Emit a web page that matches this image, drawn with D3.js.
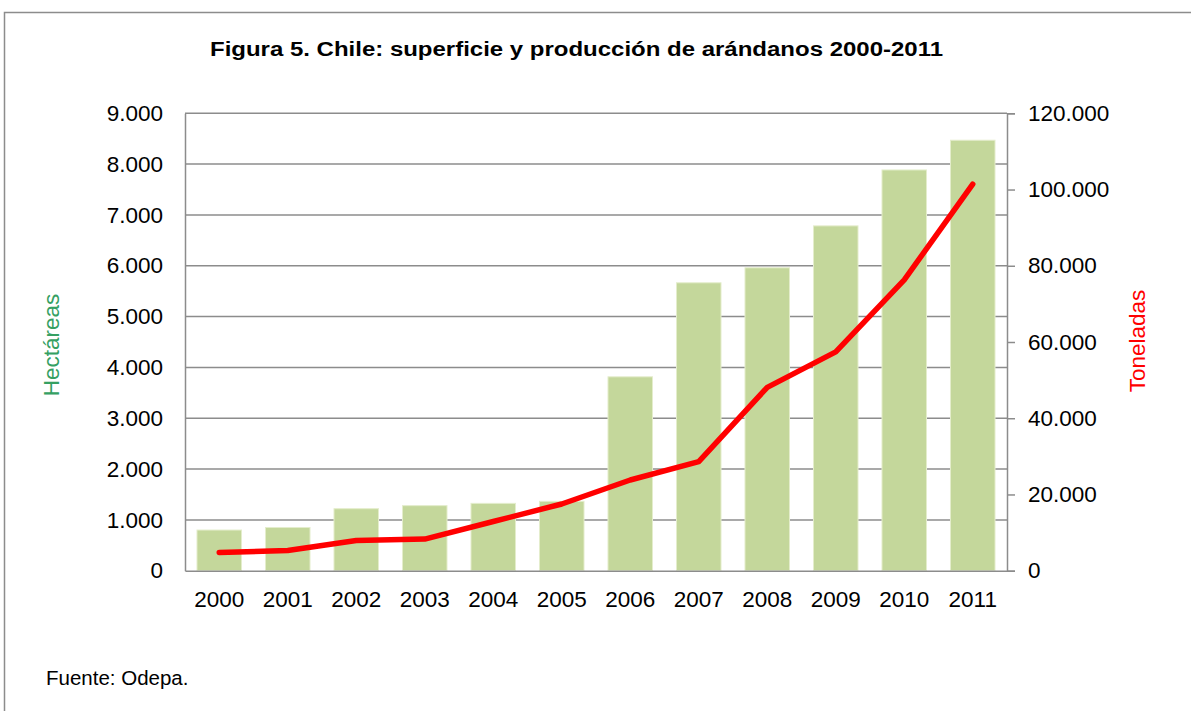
<!DOCTYPE html>
<html>
<head>
<meta charset="utf-8">
<script src="https://cdn.jsdelivr.net/npm/d3@7"></script>
<style>
  body { margin: 0; background: #fff; }
  text { font-family: "Liberation Sans", Arial, sans-serif; }
</style>
</head>
<body>
<div class="canvas"></div>
<script>
const years = ["2000","2001","2002","2003","2004","2005","2006","2007","2008","2009","2010","2011"]
const hectareas = [800, 850, 1220, 1280, 1325, 1365, 3815, 5665, 5960, 6785, 7885, 8470]
const toneladas = [4800, 5300, 7900, 8300, 12900, 17500, 23800, 28600, 48100, 57400, 76300, 101400]
const leftTicks = [0, 1000, 2000, 3000, 4000, 5000, 6000, 7000, 8000, 9000]
const rightTicks = [0, 20000, 40000, 60000, 80000, 100000, 120000]

const width = 1191
const height = 711
const plot = { left: 185, right: 1007, top: 113.3, bottom: 570.7 }

const svg = d3.select(".canvas")
    .append("svg")
    .attr("width", width)
    .attr("height", height)

const fmt = v => d3.format(",")(v).replace(/,/g, ".")

// outer frame
svg.append("rect")
    .attr("x", 4.5).attr("y", 12.5)
    .attr("width", width + 10).attr("height", height + 10)
    .attr("fill", "none")
    .attr("stroke", "#8c8c8c")
    .attr("stroke-width", 1.5)

// title is drawn wider in the reference, stretch it to match
svg.append("text")
    .attr("x", 210).attr("y", 56)
    .attr("font-size", 20).attr("font-weight", "bold")
    .attr("textLength", 733)
    .attr("lengthAdjust", "spacingAndGlyphs")
    .text("Figura 5. Chile: superficie y producción de arándanos 2000-2011")

const x = d3.scaleBand()
    .domain(years)
    .range([plot.left, plot.right])
    .paddingInner(0.35)
    .paddingOuter(0.175)

const yL = d3.scaleLinear().domain([0, 9000]).range([plot.bottom, plot.top])
const yR = d3.scaleLinear().domain([0, 120000]).range([plot.bottom, plot.top])

// gridlines
svg.append("g")
    .selectAll("line")
    .data(leftTicks.slice(1))
    .enter().append("line")
    .attr("x1", plot.left).attr("x2", plot.right)
    .attr("y1", d => yL(d)).attr("y2", d => yL(d))
    .attr("stroke", "#8c8c8c").attr("stroke-width", 1.5)

// bars
svg.append("g")
    .selectAll("rect")
    .data(years)
    .enter().append("rect")
    .attr("x", d => x(d))
    .attr("width", x.bandwidth())
    .attr("y", (d, i) => yL(hectareas[i]))
    .attr("height", (d, i) => plot.bottom - yL(hectareas[i]))
    .attr("fill", "#c4d79b")
    .attr("stroke", "#e4edcc").attr("stroke-width", 1)

// left axis
const gL = svg.append("g")
    .attr("transform", `translate(${plot.left},0)`)
    .call(d3.axisLeft(yL).tickValues(leftTicks).tickSize(0).tickPadding(22).tickFormat(fmt))
gL.select(".domain").attr("stroke", "#8c8c8c").attr("stroke-width", 1.5)
gL.selectAll("text").attr("font-size", 22.5).attr("fill", "#000")
    .style("font-family", "'Liberation Sans', Arial, sans-serif")

// right axis
const gR = svg.append("g")
    .attr("transform", `translate(${plot.right},0)`)
    .call(d3.axisRight(yR).tickValues(rightTicks).tickSize(8).tickPadding(13).tickFormat(fmt))
gR.select(".domain").attr("stroke", "#8c8c8c").attr("stroke-width", 1.5)
gR.selectAll(".tick line").attr("stroke", "#8c8c8c").attr("stroke-width", 1.5)
gR.selectAll("text").attr("font-size", 22.5).attr("fill", "#000")
    .style("font-family", "'Liberation Sans', Arial, sans-serif")

// bottom axis
const gB = svg.append("g")
    .attr("transform", `translate(0,${plot.bottom})`)
    .call(d3.axisBottom(x).tickSize(0).tickPadding(20))
gB.select(".domain").attr("stroke", "#8c8c8c").attr("stroke-width", 1.5)
gB.selectAll("text").attr("font-size", 22.5).attr("fill", "#000")
    .style("font-family", "'Liberation Sans', Arial, sans-serif")

// production line
const line = d3.line()
    .x((d, i) => x(years[i]) + x.bandwidth() / 2)
    .y(d => yR(d))

svg.append("path")
    .datum(toneladas)
    .attr("d", line)
    .attr("fill", "none")
    .attr("stroke", "#ff0000")
    .attr("stroke-width", 5.5)
    .attr("stroke-linecap", "round")
    .attr("stroke-linejoin", "round")

// axis titles
svg.append("text")
    .attr("transform", "translate(59,345) rotate(-90)")
    .attr("text-anchor", "middle")
    .attr("font-size", 22.5)
    .attr("fill", "#35a062")
    .text("Hectáreas")

svg.append("text")
    .attr("transform", "translate(1145,341) rotate(-90)")
    .attr("text-anchor", "middle")
    .attr("font-size", 22.5)
    .attr("fill", "#ff0000")
    .text("Toneladas")

svg.append("text")
    .attr("x", 46).attr("y", 685)
    .attr("font-size", 20.5)
    .text("Fuente: Odepa.")
</script>
</body>
</html>
